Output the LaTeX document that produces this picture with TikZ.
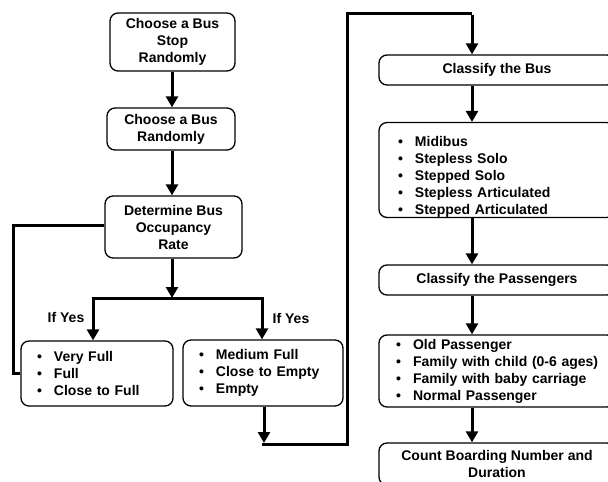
\documentclass[tikz,border=0pt]{standalone}
\usepackage{fontspec}
\setmainfont{Liberation Sans}
\usetikzlibrary{arrows.meta}
\newcommand{\bitem}[1]{\makebox[17pt][l]{•}\mbox{#1}}
\begin{document}
\begin{tikzpicture}[x=1pt,y=-1pt,
  box/.style={draw=black, line width=1.3pt, rounded corners=8pt, align=center,
    font=\fontsize{14}{17}\selectfont\bfseries, inner sep=0pt},
  listbox/.style={box, align=left},
  flow/.style={line width=3pt, -{Triangle[length=11pt,width=12pt]}},
  wire/.style={line width=3pt},
  lbl/.style={font=\fontsize{14}{17}\selectfont\bfseries, inner sep=0pt}
]
\useasboundingbox (0,0) rectangle (608,482);
\clip (0,0) rectangle (608,482);
\fill[white] (0,0) rectangle (608,482);

% left column
\node[box, minimum width=125pt, minimum height=58pt] (stop) at (172.5,42) {Choose a Bus\\Stop\\Randomly};
\node[box, minimum width=128pt, minimum height=42pt] (bus) at (171,129) {Choose a Bus\\Randomly};
\node[box, minimum width=137pt, minimum height=62pt] (occ) at (173.5,227) {Determine Bus\\Occupancy\\Rate};

\node[listbox, minimum width=152pt, minimum height=65pt, text width=120pt] (full) at (97,373.5)
  {\bitem{Very Full}\\\bitem{Full}\\\bitem{Close to Full}};
\node[listbox, minimum width=160pt, minimum height=66pt, text width=128pt] (empty) at (263,373)
  {\bitem{Medium Full}\\\bitem{Close to Empty}\\\bitem{Empty}};

\node[lbl] (yes1) at (66,317) {If Yes};
\node[lbl] (yes2) at (291,318) {If Yes};

\coordinate (xl) at (172,0);
\coordinate (split) at (172,298);
\coordinate (sl) at (93,298);
\coordinate (sr) at (262,298);
\coordinate (slw) at (91.5,298);
\coordinate (srw) at (263.5,298);

\draw[flow] (stop.south -| xl) -- (bus.north -| xl);
\draw[flow] (bus.south -| xl) -- (occ.north -| xl);
\draw[flow] (occ.south -| xl) -- (split);
\draw[wire] (slw) -- (srw);
\draw[flow] (sl) -- (full.north -| sl);
\draw[flow] (sr) -- (empty.north -| sr);

\coordinate (lw1) at (13,225);
\coordinate (lw2) at (13,373);
\draw[wire] (occ.west |- lw1) -- (lw1) -- (lw2) -- (full.west |- lw2);

% right column
\node[box, minimum width=236pt, minimum height=30pt] (cls) at (497,70) {Classify the Bus};
\node[listbox, minimum width=236pt, minimum height=90pt, text width=198pt] (types) at (497,170)
  {\rule{0pt}{24pt}\bitem{Midibus}\\\bitem{Stepless Solo}\\\bitem{Stepped Solo}\\\bitem{Stepless Articulated}\\\bitem{Stepped Articulated}};
\node[box, minimum width=236pt, minimum height=30pt] (clsp) at (497,280) {Classify the Passengers};
\node[listbox, minimum width=236pt, minimum height=72pt, text width=202pt] (pass) at (497,371)
  {\bitem{Old Passenger}\\\bitem{Family with child (0-6 ages)}\\\bitem{Family with baby carriage}\\\bitem{Normal Passenger}};
\node[box, minimum width=236pt, minimum height=42pt] (count) at (497,464) {Count Boarding Number and\\Duration};

\coordinate (b1) at (264,443);
\coordinate (b0) at (262,444);
\coordinate (b2) at (347,444);
\coordinate (t1) at (347,13);
\coordinate (t2) at (472,13);
\coordinate (t3) at (472,14.5);

\draw[flow] (empty.south -| b1) -- (b1);
\draw[wire] (b0) -- (b2) -- (t1) -- (t2);
\draw[flow] (t3) -- (cls.north -| t2);
\draw[flow] (cls.south -| t2) -- (types.north -| t2);
\draw[flow] (types.south -| t2) -- (clsp.north -| t2);
\draw[flow] (clsp.south -| t2) -- (pass.north -| t2);
\draw[flow] (pass.south -| t2) -- (count.north -| t2);
\end{tikzpicture}
\end{document}
